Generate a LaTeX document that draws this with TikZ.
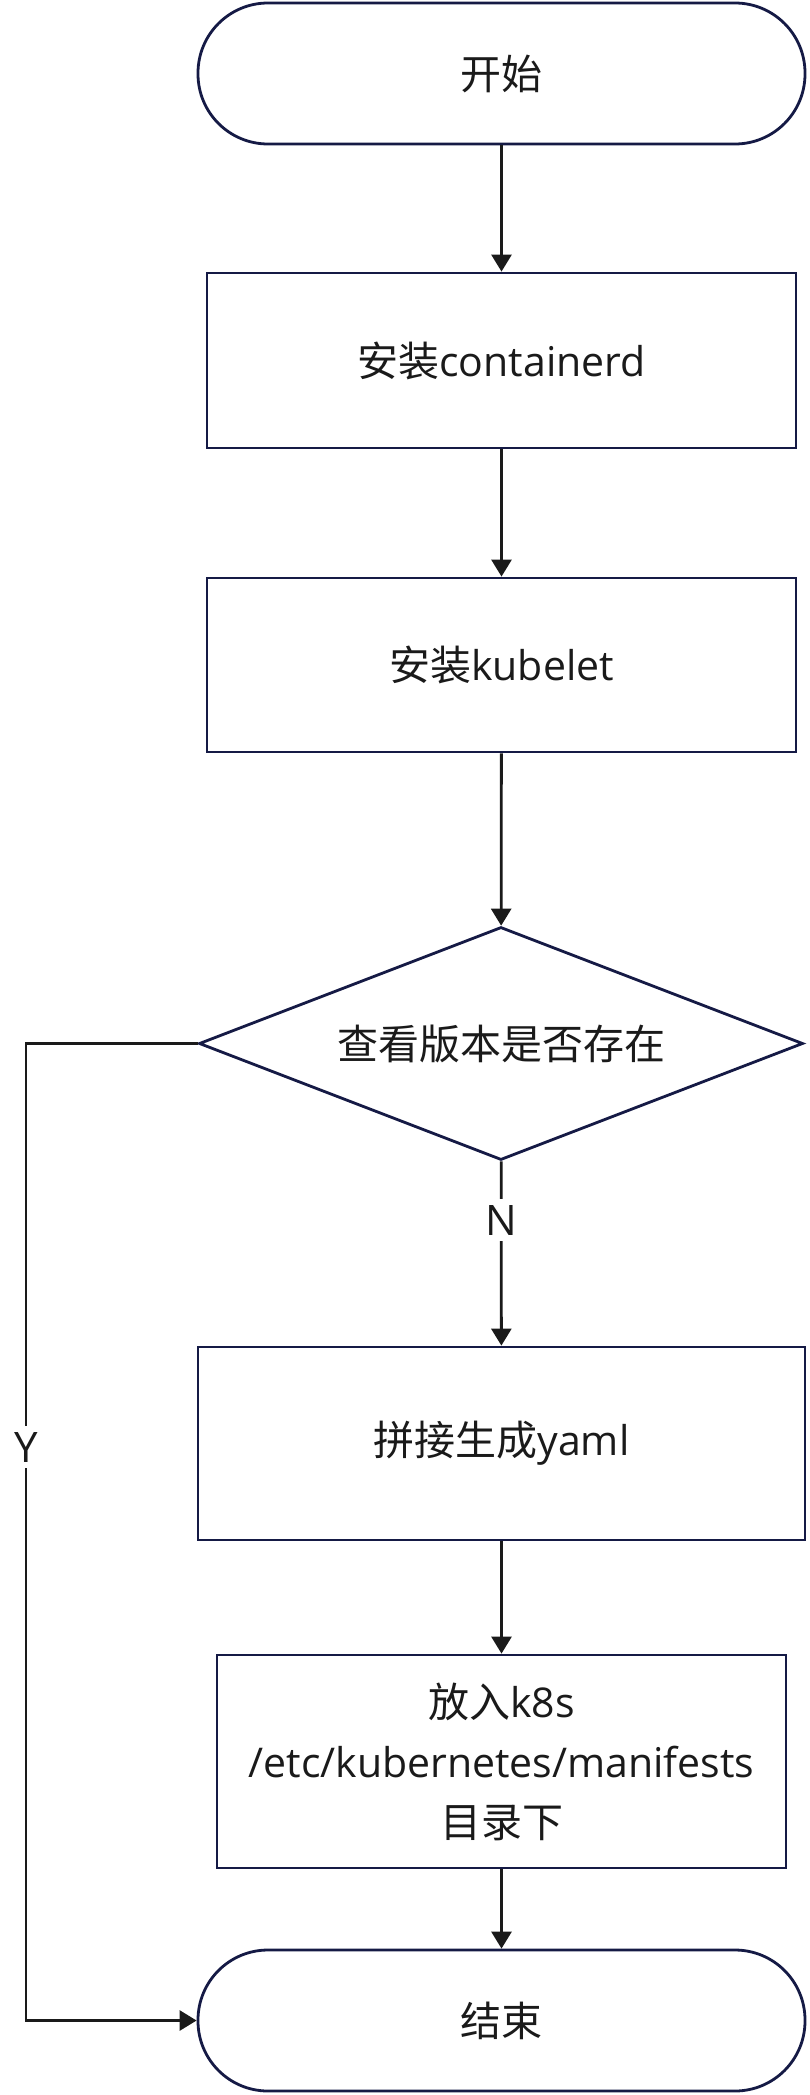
\documentclass[tikz,border=0pt]{standalone}
\usepackage{fontspec}
\setmainfont{Open Sans}
\newfontfamily\cjk{Noto Sans CJK SC}
\usetikzlibrary{shapes.geometric,arrows.meta}
\definecolor{border}{RGB}{21,26,69}
\definecolor{ink}{RGB}{26,26,26}
\begin{document}
\begin{tikzpicture}[x=1pt,y=-1pt,
  every node/.style={font=\fontsize{41}{60}\selectfont, text=ink},
  termbox/.style={draw=border, line width=2.8pt, rounded corners=70pt, minimum width=607pt, minimum height=141pt, inner sep=0pt},
  procbox/.style={draw=border, line width=2.8pt, inner sep=0pt, align=center},
  decbox/.style={draw=border, line width=2.8pt, diamond, aspect=2.59, minimum width=604pt, minimum height=233pt, inner sep=0pt},
  conn/.style={draw=ink, line width=2.8pt, -{Triangle[width=20pt,length=17pt]}},
  lbl/.style={fill=white, inner sep=6pt, font=\fontsize{42}{50}\selectfont}
]
\fill[white] (0,0) rectangle (809,2095);
\useasboundingbox (0,0) rectangle (809,2095);

\node[termbox] (start) at (501.5,73.5) {{\cjk 开始}};
\node[procbox, minimum width=589pt, minimum height=175pt] (b1) at (501.5,360.5) {{\cjk 安装}containerd};
\node[procbox, minimum width=589pt, minimum height=174pt] (b2) at (501.5,665) {{\cjk 安装}kubelet};
\node[decbox] (dec) at (501,1043.5) {{\cjk 查看版本是否存在}};
\node[procbox, minimum width=607pt, minimum height=193pt] (b3) at (501.5,1443.5) {{\cjk 拼接生成}yaml};
\node[procbox, minimum width=569pt, minimum height=213pt] (b4) at (501.5,1761.5) {{\cjk 放入}k8s\\/etc/kubernetes/manifests\\{\cjk 目录下}};
\node[termbox] (end) at (501.5,2020.5) {{\cjk 结束}};

\coordinate (ytop) at (26,1043.5);
\coordinate (ybot) at (26,2020.5);

\draw[conn] (start) -- (b1);
\draw[conn] (b1) -- (b2);
\draw[conn] (b2) -- (dec);
\draw[conn] (dec) -- node[lbl, pos=0.32] (nlab) {N} (b3);
\draw[conn] (b3) -- (b4);
\draw[conn] (b4) -- (end);
\draw[conn] (dec.west) -- (ytop) -- node[lbl, pos=0.413] (ylab) {Y} (ybot) -- (end.west);
\end{tikzpicture}
\end{document}
